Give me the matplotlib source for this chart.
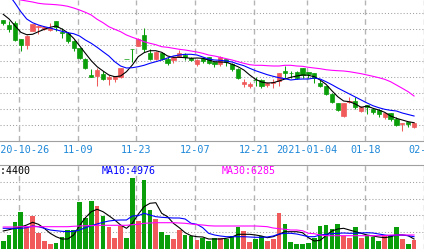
import numpy as np
import matplotlib
matplotlib.use("Agg")
import matplotlib.pyplot as plt
from matplotlib.transforms import blended_transform_factory

# daily k-line, 2020-10-21 .. 2021-01-28 (index 0..70)
open_ = [4.05, 4.00, 4.017, 3.86, 3.80, 3.94, 3.983, 3.963, 3.947, 4.04,
         3.933, 3.917, 3.843, 3.767, 3.66, 3.50, 3.49, 3.513, 3.457, 3.463,
         3.48, 3.66, 3.757, 3.79, 3.90, 3.717, 3.657, 3.723, 3.663, 3.65,
         3.683, 3.70, 3.673, 3.607, 3.667, 3.677, 3.63, 3.607, 3.657, 3.607,
         3.56, 3.407, 3.393, 3.447, 3.447, 3.397, 3.423, 3.44, 3.54, 3.523,
         3.53, 3.57, 3.53, 3.523, 3.42, 3.39, 3.307, 3.22, 3.09, 3.227,
         3.24, 3.143, 3.197, 3.16, 3.15, 3.077, 3.117, 3.06, 3.007, 3.027,
         2.977]
close = [4.017, 3.96, 3.85, 3.80, 3.893, 4.007, 3.993, 3.983, 3.973, 3.983,
         3.917, 3.843, 3.773, 3.667, 3.573, 3.48, 3.553, 3.457, 3.477, 3.487,
         3.57, 3.66, 3.757, 3.857, 3.757, 3.66, 3.73, 3.66, 3.623, 3.677,
         3.723, 3.677, 3.65, 3.65, 3.64, 3.623, 3.61, 3.677, 3.633, 3.56,
         3.473, 3.43, 3.41, 3.447, 3.393, 3.423, 3.43, 3.52, 3.52, 3.523,
         3.473, 3.497, 3.51, 3.473, 3.393, 3.31, 3.227, 3.15, 3.22, 3.24,
         3.183, 3.183, 3.177, 3.127, 3.11, 3.123, 3.06, 3.00, 3.017, 3.007,
         3.017]
high = [4.05, 4.04, 4.04, 3.86, 3.90, 4.01, 4.00, 3.993, 4.017, 4.04,
        3.973, 3.933, 3.85, 3.767, 3.673, 3.557, 3.567, 3.54, 3.50, 3.49,
        3.573, 3.66, 3.757, 3.867, 3.967, 3.757, 3.743, 3.733, 3.683, 3.693,
        3.75, 3.717, 3.683, 3.657, 3.683, 3.683, 3.633, 3.69, 3.657, 3.617,
        3.567, 3.46, 3.43, 3.48, 3.457, 3.433, 3.46, 3.52, 3.593, 3.54,
        3.543, 3.573, 3.533, 3.523, 3.45, 3.39, 3.317, 3.22, 3.22, 3.283,
        3.283, 3.19, 3.197, 3.167, 3.157, 3.123, 3.123, 3.077, 3.017, 3.033,
        3.033]
low = [4.00, 3.93, 3.84, 3.743, 3.76, 3.94, 3.91, 3.95, 3.943, 3.94,
       3.873, 3.817, 3.74, 3.657, 3.557, 3.477, 3.39, 3.45, 3.40, 3.433,
       3.473, 3.66, 3.63, 3.79, 3.733, 3.65, 3.65, 3.65, 3.60, 3.617,
       3.677, 3.65, 3.64, 3.59, 3.617, 3.61, 3.583, 3.59, 3.593, 3.54,
       3.46, 3.377, 3.373, 3.39, 3.373, 3.383, 3.373, 3.393, 3.473, 3.467,
       3.463, 3.473, 3.473, 3.423, 3.383, 3.30, 3.217, 3.137, 3.083, 3.217,
       3.157, 3.133, 3.11, 3.11, 3.083, 3.06, 3.043, 2.99, 2.943, 2.98,
       2.967]

ma5 = [4.107, 4.06, 3.993, 3.927, 3.903, 3.907, 3.933, 3.957, 3.977, 3.99,
       3.96, 3.923, 3.867, 3.793, 3.717, 3.643, 3.583, 3.54, 3.50, 3.483,
       3.49, 3.533, 3.60, 3.683, 3.723, 3.743, 3.743, 3.727, 3.69, 3.677,
       3.677, 3.673, 3.667, 3.67, 3.667, 3.65, 3.633, 3.63, 3.627, 3.607,
       3.583, 3.55, 3.50, 3.457, 3.43, 3.42, 3.423, 3.44, 3.46, 3.477,
       3.49, 3.50, 3.497, 3.483, 3.45, 3.407, 3.343, 3.283, 3.24, 3.233,
       3.21, 3.177, 3.19, 3.167, 3.15, 3.127, 3.09, 3.067, 3.05, 3.033,
       3.023]
ma10 = [4.37, 4.30, 4.22, 4.133, 4.06, 4.023, 4.00, 3.983, 3.97, 3.953,
        3.937, 3.923, 3.913, 3.89, 3.85, 3.817, 3.777, 3.733, 3.69, 3.633,
        3.59, 3.57, 3.573, 3.583, 3.597, 3.617, 3.633, 3.65, 3.67, 3.69,
        3.70, 3.707, 3.707, 3.70, 3.68, 3.66, 3.65, 3.647, 3.64, 3.63,
        3.61, 3.593, 3.567, 3.543, 3.523, 3.503, 3.487, 3.473, 3.463, 3.45,
        3.457, 3.46, 3.46, 3.47, 3.46, 3.433, 3.403, 3.37, 3.34, 3.31,
        3.28, 3.25, 3.22, 3.193, 3.173, 3.157, 3.147, 3.14, 3.12, 3.105,
        3.09]
ma30 = [4.285, 4.275, 4.262, 4.25, 4.24, 4.23, 4.217, 4.21, 4.207, 4.203,
        4.197, 4.187, 4.17, 4.15, 4.127, 4.10, 4.057, 4.023, 3.983, 3.957,
        3.933, 3.90, 3.877, 3.857, 3.833, 3.817, 3.803, 3.783, 3.777, 3.767,
        3.757, 3.75, 3.74, 3.73, 3.717, 3.70, 3.69, 3.677, 3.663, 3.65,
        3.633, 3.617, 3.603, 3.597, 3.597, 3.593, 3.59, 3.59, 3.597, 3.597,
        3.59, 3.587, 3.577, 3.57, 3.563, 3.553, 3.547, 3.543, 3.54, 3.533,
        3.523, 3.513, 3.50, 3.487, 3.473, 3.457, 3.433, 3.40, 3.367, 3.333,
        3.29]

volume = [4000, 7000, 13500, 18500, 10850, 16500, 8000, 4000, 2500, 3000,
          6150, 9500, 9500, 23650, 15650, 24150, 21500, 16500, 11150, 5650,
          11500, 5650, 35650, 14150, 34500, 19500, 15000, 8650, 7000, 5000,
          9500, 7000, 6500, 4500, 5650, 4000, 5500, 5500, 5000, 6500,
          11000, 9250, 3600, 5250, 6750, 4000, 5000, 18150, 12500, 3600,
          2500, 2500, 3150, 5650, 11500, 12000, 10100, 12500, 6600, 5650,
          11100, 5500, 7250, 6100, 4250, 7000, 7000, 11100, 5250, 2500,
          4750]
vol_ma5 = [9000, 9650, 10350, 11000, 12000, 13350, 12350, 10350, 7850, 6150,
           5000, 5000, 7000, 11650, 15650, 18650, 19850, 18650, 16650, 14500,
           12000, 10350, 12850, 17350, 21150, 22850, 23150, 17850, 16150, 12850,
           10650, 8150, 6650, 6150, 6000, 5000, 5000, 5000, 5350, 6000,
           7350, 7350, 7350, 7000, 6500, 5650, 6150, 7350, 8650, 8650,
           8650, 8150, 5650, 4000, 4350, 6650, 9000, 10000, 10350, 9500,
           8650, 7850, 7000, 6500, 6000, 5650, 6150, 7000, 7000, 6650,
           5000]
vol_ma10 = [10350, 10350, 10350, 10350, 10650, 11500, 11150, 10350, 9500, 9150,
            8850, 8650, 8850, 9500, 10650, 11650, 12500, 13350, 14000, 14350,
            14500, 14500, 16500, 16650, 17850, 17000, 16150, 15850, 15650, 15500,
            15500, 15000, 12850, 12350, 10650, 7850, 7000, 6500, 6150, 6150,
            6150, 6150, 6000, 5850, 5850, 6000, 6500, 7500, 7850, 7850,
            7500, 6850, 6150, 6150, 7000, 7350, 7650, 7850, 8000, 7850,
            7850, 8000, 8150, 8000, 7500, 7000, 6650, 7000, 7000, 6650,
            6150]
vol_ma30 = [11000, 11000, 11000, 11150, 11150, 11150, 11150, 11150, 11150, 11150,
            11150, 11150, 11350, 11500, 11650, 11650, 11850, 11850, 11850, 11850,
            11850, 11850, 12150, 12350, 12850, 13000, 13150, 13150, 13150, 13150,
            13000, 12850, 12500, 12150, 12000, 11650, 11500, 11500, 11500, 11500,
            11500, 11500, 11500, 11500, 11350, 11150, 10500, 10150, 9850, 9500,
            9500, 9150, 7850, 7650, 7000, 6650, 6650, 6650, 6650, 6650,
            6650, 6650, 6650, 6650, 6650, 6650, 7000, 7000, 7000, 7000,
            7000]

tick_idx = [3, 13, 23, 33, 43, 52, 62, 72]
tick_labels = ["2020-10-26", "11-09", "11-23", "12-07", "12-21",
               "2021-01-04", "01-18", "02-01"]
legend_texts = ["MA5:4400", "MA10:4976", "MA30:6285"]

UP = "#f05a5a"
DOWN = "#0a9e0a"
GRID = "#a0a0a0"
MONO = "DejaVu Sans Mono"

x = np.arange(len(close))
o = np.array(open_)
c = np.array(close)
colors = [UP if cc > oo else DOWN for oo, cc in zip(o, c)]

fig = plt.figure(figsize=(4.24, 2.49), dpi=100)
ax = fig.add_axes([0, 1 - 141 / 249, 1, 141 / 249])
axv = fig.add_axes([0, 0, 1, 84 / 249])

# ---- price panel
ax.vlines(x, low, high, colors=colors, lw=0.75, zorder=2)
ax.bar(x, np.abs(c - o), bottom=np.minimum(o, c), width=0.72,
       color=colors, edgecolor=colors, linewidth=0.5, zorder=3)
ax.plot(x, ma5, color="black", lw=0.8, zorder=4)
ax.plot(x, ma10, color="#0000ff", lw=0.8, zorder=4)
ax.plot(x, ma30, color="#ff00ff", lw=0.8, zorder=4)
ax.set_xlim(-0.55, 70.12)
ax.set_ylim(4.25 - 1.41, 4.25)
ax.set_yticks(4.117 - 0.16 * np.arange(8))

# ---- volume panel
axv.bar(x, volume, width=0.8, color=colors, linewidth=0, zorder=2)
axv.plot(x, vol_ma5, color="black", lw=0.8, zorder=4)
axv.plot(x, vol_ma10, color="#0000ff", lw=0.8, zorder=4)
axv.plot(x, vol_ma30, color="#ff00ff", lw=0.8, zorder=4)
axv.set_xlim(-0.55, 70.12)
axv.set_ylim(0, 42000)
axv.set_yticks([8400, 16800, 25200, 33600])

for a in (ax, axv):
    a.set_xticks(np.array(tick_idx) - 0.3)
    a.tick_params(length=0, labelbottom=False, labelleft=False)
    a.yaxis.grid(True, linestyle=(0, (1, 2)), color=GRID, lw=0.75)
    a.xaxis.grid(True, linestyle=(0, (4, 3)), color="#b4b4b4", lw=1.0)
    a.set_axisbelow(True)
    for s in a.spines.values():
        s.set_visible(False)
ax.spines["bottom"].set_visible(True)
ax.spines["bottom"].set_color(GRID)
ax.spines["bottom"].set_linewidth(0.8)
axv.spines["top"].set_visible(True)
axv.spines["top"].set_color(GRID)
axv.spines["top"].set_linewidth(0.8)

# date labels under price panel
tr = blended_transform_factory(ax.transData, ax.transAxes)
for pos, lab in zip(tick_idx, tick_labels):
    ax.text(pos - 0.3, -9 / 141, lab, transform=tr, ha="center", va="center",
            fontsize=7.3, family=MONO, color="#1e88d8", clip_on=False)

# MA legend of the volume panel
for px, txt, col in zip([-17.7, 101.7, 222.0], legend_texts,
                        ["black", "#0000ff", "#ff00ff"]):
    fig.text(px / 424, 1 - 171 / 249, txt, ha="left", va="center",
             fontsize=7.2, family=MONO, color=col)

fig.savefig("out.png", dpi=100)
